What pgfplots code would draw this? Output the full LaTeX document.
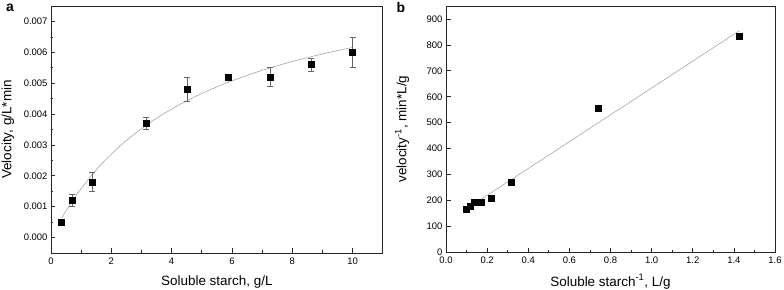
\documentclass[border=0pt]{standalone}
\usepackage{pgfplots}
\pgfplotsset{compat=1.18}
\usepackage{pgfplotstable}
\usepackage{fontspec}
\setmainfont{Liberation Sans}

\pgfplotstableread{
x y err
0.35 0.0005 0.00005
0.70 0.0012 0.0002
1.37 0.0018 0.0003
3.15 0.0037 0.0002
4.52 0.0048 0.0004
5.88 0.0052 0.00005
7.27 0.0052 0.0003
8.62 0.0056 0.0002
10.0 0.0060 0.0005
}\dataA

\pgfplotstableread{
x y
0.35 0.000627
0.5 0.000870
0.75 0.001245
1.0 0.001588
1.5 0.002190
2.0 0.002701
2.5 0.003142
3.0 0.003526
3.5 0.003863
4.0 0.004161
4.5 0.004427
5.0 0.004665
5.5 0.004880
6.0 0.005075
6.5 0.005252
7.0 0.005415
7.5 0.005564
8.0 0.005701
8.5 0.005828
9.0 0.005945
9.5 0.006055
10.0 0.006156
}\fitA

\pgfplotstableread{
x y
0.100 166
0.116 178
0.138 192
0.170 192
0.222 208
0.318 270
0.741 555
1.428 833
}\dataB

\pgfplotstableread{
x y
0.166 202
1.427 855
}\fitB

\begin{document}
\begin{tikzpicture}
\useasboundingbox (0,0) rectangle (784bp,290bp);
\pgfplotsset{
  every axis/.append style={
    scale only axis,
    axis line style={line width=0.9bp, black!85},
    tick style={line width=0.7bp, black!85},
    tick align=inside,
    xtick pos=bottom, ytick pos=left,
    major tick length=4.5bp, minor tick length=2.5bp,
    tick label style={font=\fontsize{9.5}{10}\selectfont},
    xticklabel style={yshift=-1.5bp},
    label style={font=\fontsize{13.5}{15}\selectfont},
    /pgf/number format/assume math mode=true,
    clip=false,
  },
}
\begin{axis}[
  at={(51bp,37bp)}, anchor=south west,
  width=331.7bp, height=247bp,
  xmin=0, xmax=11, ymin=-0.0005, ymax=0.0075,
  xtick={0,2,4,6,8,10}, minor x tick num=1,
  ytick={0,0.001,0.002,0.003,0.004,0.005,0.006,0.007}, minor y tick num=1,
  scaled y ticks=false,
  yticklabel style={/pgf/number format/.cd, fixed, fixed zerofill, precision=3},
  xlabel={Soluble starch, g/L},
  ylabel={Velocity, g/L*min},
  xlabel style={at={(axis description cs:0.5,-0.1174)}, anchor=center},
  ylabel style={at={(axis description cs:-0.1296,0.5)}, anchor=center},
]
\addplot[gray!70, line width=0.6bp, smooth] table {\fitA};
\addplot[only marks, mark=square*, mark size=3bp, black,
  error bars/.cd, y dir=both, y explicit,
  error bar style={gray!80!black, line width=0.6bp},
  error mark options={gray!80!black, mark size=3bp, line width=0.6bp, rotate=90}]
  table[x=x, y=y, y error=err] {\dataA};
\end{axis}
\begin{axis}[
  at={(446bp,37.7bp)}, anchor=south west,
  width=329bp, height=246.3bp,
  xmin=0, xmax=1.6, ymin=0, ymax=950,
  xtick={0,0.2,0.4,0.6,0.8,1.0,1.2,1.4,1.6}, minor x tick num=1,
  ytick={0,100,200,300,400,500,600,700,800,900},
  xticklabel style={/pgf/number format/.cd, fixed, fixed zerofill, precision=1},
  xlabel={Soluble starch\textsuperscript{-1}, L/g},
  ylabel={velocity\textsuperscript{-1}, min*L/g},
  xlabel style={at={(axis description cs:0.5,-0.119)}, anchor=center},
  ylabel style={at={(axis description cs:-0.1337,0.5)}, anchor=center},
]
\addplot[gray!70, line width=0.6bp] table {\fitB};
\addplot[only marks, mark=square*, mark size=3bp, black] table {\dataB};
\end{axis}
\node[font=\bfseries\fontsize{14}{16}\selectfont] at (10bp,282bp) {a};
\node[font=\bfseries\fontsize{14}{16}\selectfont] at (401bp,282bp) {b};
\end{tikzpicture}
\end{document}
